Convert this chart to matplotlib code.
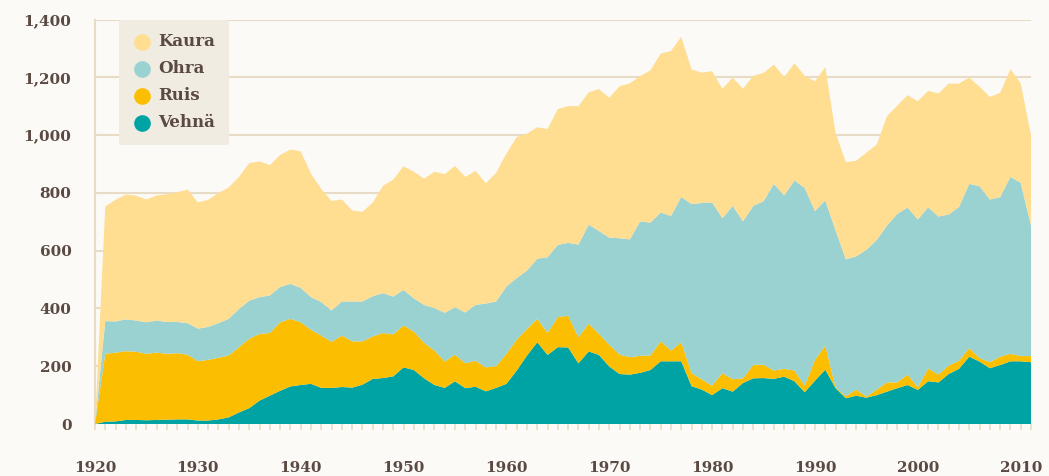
import matplotlib.pyplot as plt
from matplotlib.lines import Line2D
import numpy as np

# vuodet 1920-2011, tuhatta tonnia
years = np.arange(1920, 2012)

vehna = [0, 8, 9, 14, 14, 13, 14, 15, 16, 16,
         12, 12, 16, 23, 40, 55, 81, 98, 115, 130,
         135, 139, 125, 125, 128, 126, 136, 156, 159, 165,
         196, 187, 158, 135, 125, 148, 124, 129, 113, 125,
         139, 185, 237, 283, 239, 266, 265, 210, 251, 239,
         199, 173, 171, 177, 187, 217, 217, 217, 131, 119,
         100, 124, 112, 142, 158, 159, 156, 164, 148, 110,
         150, 188, 124, 89, 98, 91, 100, 112, 124, 135,
         118, 148, 144, 173, 191, 233, 216, 193, 204, 217,
         217, 214]
ruis = [0, 235, 238, 238, 236, 230, 233, 228, 229, 224,
        205, 210, 213, 214, 226, 240, 231, 217, 237, 234,
        217, 187, 181, 159, 178, 160, 150, 147, 156, 145,
        145, 133, 123, 119, 91, 92, 86, 90, 83, 75,
        104, 107, 92, 81, 76, 104, 110, 90, 96, 73,
        75, 67, 60, 59, 50, 69, 37, 66, 45, 35,
        33, 52, 43, 16, 47, 46, 29, 27, 37, 23,
        72, 83, 3, 7, 21, 4, 19, 32, 20, 36,
        9, 44, 27, 29, 28, 30, 12, 21, 29, 26,
        18, 21]
ohra = [0, 113, 108, 110, 108, 109, 111, 110, 108, 109,
        113, 114, 120, 127, 132, 132, 127, 130, 122, 121,
        119, 113, 116, 109, 118, 138, 138, 139, 138, 131,
        123, 115, 131, 147, 169, 164, 176, 193, 221, 224,
        233, 213, 202, 208, 262, 250, 252, 321, 343, 356,
        371, 403, 408, 465, 460, 446, 466, 503, 585, 611,
        634, 536, 600, 543, 550, 566, 646, 600, 658, 684,
        515, 503, 543, 474, 461, 508, 518, 543, 583, 578,
        581, 558, 547, 523, 532, 568, 595, 563, 552, 612,
        600, 452]
kaura = [0, 397, 421, 432, 432, 425, 433, 442, 449, 462,
         437, 440, 450, 455, 457, 476, 470, 451, 457, 465,
         473, 427, 391, 379, 353, 315, 310, 324, 371, 405,
         428, 438, 437, 472, 480, 489, 469, 464, 416, 445,
         460, 488, 474, 455, 444, 470, 473, 479, 458, 491,
         484, 526, 540, 503, 527, 550, 571, 554, 466, 451,
         454, 448, 444, 459, 450, 444, 413, 410, 405, 388,
         449, 461, 337, 336, 331, 336, 330, 378, 375, 389,
         409, 403, 426, 453, 427, 368, 344, 355, 361, 373,
         344, 312]

names = ['Vehnä', 'Ruis', 'Ohra', 'Kaura']
colors = ['#00a3a3', '#fbbe00', '#9ad2d1', '#ffdd91']

bg = '#fbfaf6'
tan = '#e8dcc6'
txt = '#5b4a43'
plt.rcParams['font.family'] = ['DejaVu Serif']

fig = plt.figure(figsize=(10.49, 4.76), dpi=100, facecolor=bg)
ax = fig.add_axes([95 / 1049, 52 / 476, 936 / 1049, 404.5 / 476], facecolor=bg)

ax.stackplot(years, vehna, ruis, ohra, kaura, colors=colors, linewidth=0, zorder=3)

ax.set_xlim(1920, 2011)
ax.set_ylim(0, 1400)
ax.set_yticks(range(0, 1401, 200))
ax.set_yticklabels([f'{v:,}' for v in range(0, 1401, 200)])
ax.yaxis.grid(True, color=tan, linewidth=1.5, zorder=0)
ax.set_axisbelow(True)

ax.set_xticks(range(1920, 2011, 10))
ax.set_xticks(years, minor=True)
ax.tick_params(axis='x', which='both', length=4, width=1.2, color=tan, direction='out')
ax.tick_params(axis='x', which='major', pad=23)
ax.tick_params(axis='y', length=0, pad=17)
for lab in ax.get_xticklabels() + ax.get_yticklabels():
    lab.set_fontsize(11)
    lab.set_fontweight('bold')
    lab.set_color(txt)

for s in ['top', 'right', 'bottom']:
    ax.spines[s].set_visible(False)
ax.spines['left'].set_color(tan)
ax.spines['left'].set_linewidth(1.5)

handles = [Line2D([], [], marker='o', linestyle='none', markersize=12,
                  markerfacecolor=c, markeredgecolor='none')
           for c in colors[::-1]]
leg = ax.legend(handles, names[::-1], loc='upper left', bbox_to_anchor=(0.026, 1.0),
                frameon=True, fancybox=True, handletextpad=0.5, labelspacing=0.72,
                borderpad=1.0, handlelength=1.3, borderaxespad=0)
leg.get_frame().set_facecolor('#f1ece2')
leg.get_frame().set_edgecolor('none')
leg.get_frame().set_alpha(1)
leg.set_zorder(5)
for t in leg.get_texts():
    t.set_fontsize(12)
    t.set_fontweight('bold')
    t.set_color(txt)

fig.savefig('out.png', dpi=100, facecolor=bg)
